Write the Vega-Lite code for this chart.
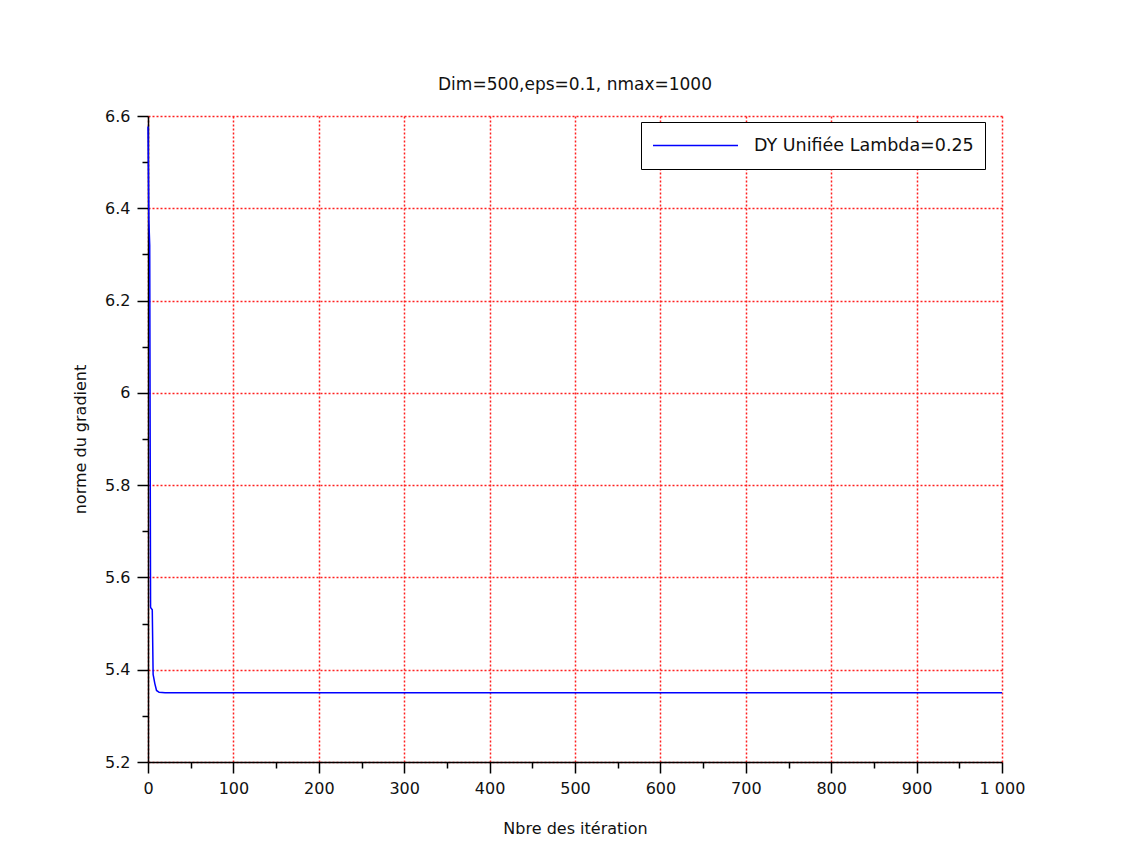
{
  "$schema": "https://vega.github.io/schema/vega-lite/v6.json",
  "width": 854,
  "height": 646,
  "autosize": {"type": "none"},
  "padding": {"left": 148, "top": 116, "right": 140, "bottom": 100},
  "background": "white",
  "title": {
    "text": "Dim=500,eps=0.1, nmax=1000",
    "font": "DejaVu Sans",
    "fontSize": 17,
    "fontWeight": "normal",
    "color": "#111",
    "offset": 14,
    "anchor": "middle"
  },
  "data": {
    "values": [
      {"it": 0, "g": 6.577},
      {"it": 1, "g": 6.375},
      {"it": 2, "g": 6.32},
      {"it": 3, "g": 5.535},
      {"it": 5, "g": 5.53},
      {"it": 6, "g": 5.39},
      {"it": 8, "g": 5.37},
      {"it": 10, "g": 5.355},
      {"it": 13, "g": 5.351},
      {"it": 20, "g": 5.35},
      {"it": 100, "g": 5.35},
      {"it": 500, "g": 5.35},
      {"it": 1000, "g": 5.35}
    ]
  },
  "config": {
    "view": {"stroke": null},
    "axis": {
      "labelFont": "DejaVu Sans",
      "labelFontSize": 16,
      "labelColor": "#111",
      "labelFlush": false,
      "labelOverlap": false,
      "titleFont": "DejaVu Sans",
      "titleFontSize": 16,
      "titleFontWeight": "normal",
      "titleColor": "#111",
      "domainColor": "black",
      "domainWidth": 1.5,
      "tickColor": "black",
      "tickWidth": 1.5,
      "gridColor": "#ff2020",
      "gridDash": [2, 2],
      "gridWidth": 1.5,
      "gridOpacity": 1
    }
  },
  "layer": [
    {
      "mark": {"type": "line", "color": "#0000ff", "strokeWidth": 1.5, "interpolate": "linear"},
      "encoding": {
        "x": {
          "field": "it",
          "type": "quantitative",
          "scale": {"domain": [0, 1000], "nice": false},
          "axis": {
            "orient": "bottom",
            "title": "Nbre des itération",
            "values": [0, 100, 200, 300, 400, 500, 600, 700, 800, 900, 1000],
            "labelExpr": "datum.value == 1000 ? '1 000' : datum.label",
            "format": "d",
            "tickSize": 11,
            "labelPadding": 7,
            "titlePadding": 24,
            "grid": true
          }
        },
        "y": {
          "field": "g",
          "type": "quantitative",
          "scale": {"domain": [5.2, 6.6], "nice": false, "zero": false},
          "axis": {
            "orient": "left",
            "title": "norme du gradient",
            "values": [5.2, 5.4, 5.6, 5.8, 6, 6.2, 6.4, 6.6],
            "format": "~g",
            "tickSize": 11,
            "labelPadding": 7,
            "titlePadding": 16,
            "grid": true
          }
        },
        "color": {
          "datum": "DY Unifiée Lambda=0.25",
          "type": "nominal",
          "scale": {"range": ["#0000ff"]},
          "legend": {
            "title": null,
            "orient": "none",
            "legendX": 493,
            "legendY": 6,
            "symbolType": "stroke",
            "symbolSize": 7225,
            "symbolStrokeWidth": 1.5,
            "symbolStrokeColor": "#0000ff",
            "labelFont": "DejaVu Sans",
            "labelFontSize": 17.5,
            "labelColor": "#111",
            "labelOffset": 15,
            "labelLimit": 400,
            "clipHeight": 25,
            "padding": 11,
            "strokeColor": "black",
            "fillColor": "white"
          }
        }
      }
    },
    {
      "mark": {"type": "point", "opacity": 0},
      "encoding": {
        "x": {
          "field": "it",
          "type": "quantitative",
          "axis": {
            "orient": "bottom",
            "title": null,
            "values": [50, 150, 250, 350, 450, 550, 650, 750, 850, 950],
            "labels": false,
            "domain": false,
            "grid": false,
            "tickSize": 6
          }
        },
        "y": {
          "field": "g",
          "type": "quantitative",
          "axis": {
            "orient": "left",
            "title": null,
            "values": [5.3, 5.5, 5.7, 5.9, 6.1, 6.3, 6.5],
            "labels": false,
            "domain": false,
            "grid": false,
            "tickSize": 6
          }
        }
      }
    }
  ],
  "resolve": {"axis": {"x": "independent", "y": "independent"}}
}
